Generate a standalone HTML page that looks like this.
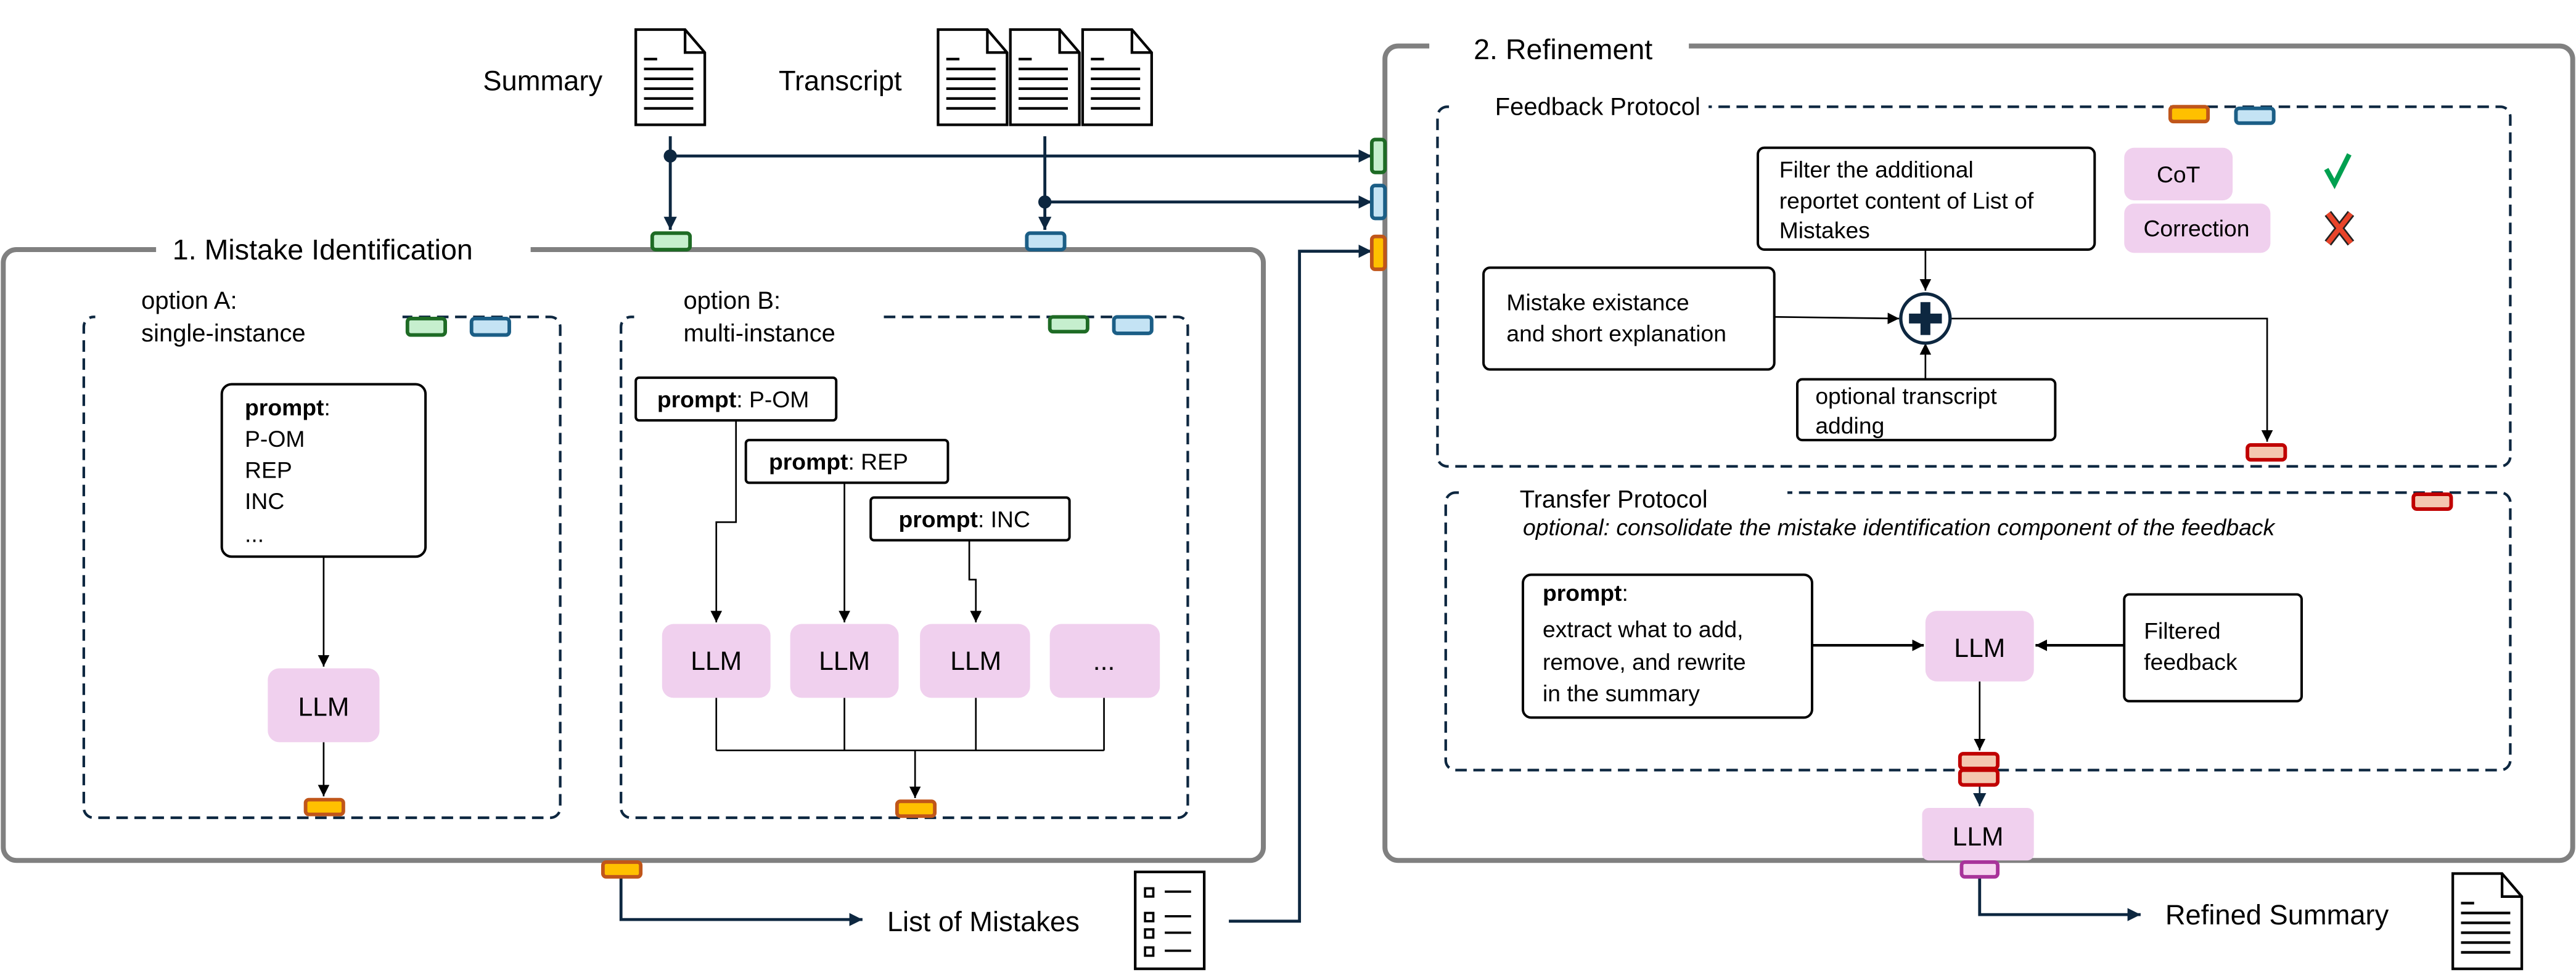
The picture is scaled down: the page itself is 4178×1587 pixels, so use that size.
<!DOCTYPE html>
<html><head><meta charset="utf-8"><style>html,body{margin:0;padding:0;background:#fff}svg{display:block}text{font-family:"Liberation Sans",sans-serif;fill:#000}</style></head><body>
<svg width="4178" height="1587" viewBox="0 0 1568 595.6" xmlns="http://www.w3.org/2000/svg">
<defs>
<marker id="a" viewBox="0 0 10 10" refX="10" refY="5" markerWidth="7" markerHeight="7" orient="auto" markerUnits="userSpaceOnUse"><path d="M0,0 L10,5 L0,10 z" fill="#000"/></marker>
<marker id="n" viewBox="0 0 10 10" refX="10" refY="5" markerWidth="8" markerHeight="8" orient="auto" markerUnits="userSpaceOnUse"><path d="M0,0 L10,5 L0,10 z" fill="#0d2740"/></marker>
<g id="doc"><path d="M0,0 H30 L42,14 V58 H0 z M30,0 V14 H42" fill="#fff" stroke="#000" stroke-width="1.6"/><path d="M5,18h8M5,24h30M5,30h30M5,36h30M5,42h30M5,48h30" stroke="#000" stroke-width="1.6"/></g>
</defs>
<rect width="1568" height="596" fill="#fff"/>
<!-- top documents -->
<text x="294" y="55" font-size="17">Summary</text>
<use href="#doc" x="387" y="18"/>
<text x="474" y="55" font-size="17">Transcript</text>
<use href="#doc" x="571" y="18"/><use href="#doc" x="615" y="18"/><use href="#doc" x="659" y="18"/>
<!-- external connectors -->
<g stroke="#0d2740" stroke-width="1.8" fill="none">
<path d="M408,83 V140" marker-end="url(#n)"/>
<path d="M408,95 H835" marker-end="url(#n)"/>
<path d="M636,83 V140" marker-end="url(#n)"/>
<path d="M636,123 H835" marker-end="url(#n)"/>
<path d="M378,534 V560 H525" marker-end="url(#n)"/>
<path d="M748,561 H791 V153 H835" marker-end="url(#n)"/>
<path d="M1205,535 V557 H1303" marker-end="url(#n)"/>
</g>
<circle cx="408" cy="95" r="4" fill="#0d2740"/><circle cx="636" cy="123" r="4" fill="#0d2740"/>
<!-- Box 1 -->
<rect x="2" y="152" width="767" height="372" rx="8" fill="none" stroke="#808080" stroke-width="3"/>
<rect x="95" y="140" width="228" height="20" fill="#fff"/>
<text x="105" y="158" font-size="17.5">1. Mistake Identification</text>
<!-- Option A -->
<rect x="51" y="193" width="290" height="305" rx="6" fill="none" stroke="#0d2740" stroke-width="1.6" stroke-dasharray="7,4"/>
<rect x="58" y="180" width="187" height="20" fill="#fff"/>
<text x="86" y="188" font-size="15">option A:</text>
<text x="86" y="208" font-size="15">single-instance</text>
<rect x="135" y="234" width="124" height="105" rx="6" fill="#fff" stroke="#000" stroke-width="1.5"/>
<text x="149" y="253" font-size="14" font-weight="bold">prompt<tspan font-weight="normal">:</tspan></text>
<text x="149" y="272" font-size="14">P-OM</text>
<text x="149" y="291" font-size="14">REP</text>
<text x="149" y="310" font-size="14">INC</text>
<text x="149" y="330" font-size="14">...</text>
<g stroke="#000" stroke-width="1" fill="none">
<path d="M197,339 V406" marker-end="url(#a)"/>
<path d="M197,452 V485" marker-end="url(#a)"/>
</g>
<rect x="163" y="407" width="68" height="45" rx="7" fill="#f0d0ee"/>
<text x="197" y="436" font-size="16" text-anchor="middle">LLM</text>
<!-- Option B -->
<rect x="378" y="193" width="345" height="305" rx="6" fill="none" stroke="#0d2740" stroke-width="1.6" stroke-dasharray="7,4"/>
<rect x="386" y="180" width="150" height="20" fill="#fff"/>
<text x="416" y="188" font-size="15">option B:</text>
<text x="416" y="208" font-size="15">multi-instance</text>
<g stroke="#000" stroke-width="1" fill="none">
<path d="M448,256 V318 H436 V379" marker-end="url(#a)"/>
<path d="M514,294 V379" marker-end="url(#a)"/>
<path d="M590,329 V353 H594 V379" marker-end="url(#a)"/>
<path d="M436,425 V457 M514,425 V457 M594,425 V457 M672,425 V457 M436,457 H672"/>
<path d="M557,457 V486" marker-end="url(#a)"/>
</g>
<rect x="387" y="230" width="122" height="26" rx="2" fill="#fff" stroke="#000" stroke-width="1.5"/>
<text x="400" y="248" font-size="14"><tspan font-weight="bold">prompt</tspan>: P-OM</text>
<rect x="454" y="268" width="123" height="26" rx="2" fill="#fff" stroke="#000" stroke-width="1.5"/>
<text x="468" y="286" font-size="14"><tspan font-weight="bold">prompt</tspan>: REP</text>
<rect x="530" y="303" width="121" height="26" rx="2" fill="#fff" stroke="#000" stroke-width="1.5"/>
<text x="547" y="321" font-size="14"><tspan font-weight="bold">prompt</tspan>: INC</text>
<g fill="#f0d0ee"><rect x="403" y="380" width="66" height="45" rx="7"/><rect x="481" y="380" width="66" height="45" rx="7"/><rect x="560" y="380" width="67" height="45" rx="7"/><rect x="639" y="380" width="67" height="45" rx="7"/></g>
<g font-size="16" text-anchor="middle"><text x="436" y="408">LLM</text><text x="514" y="408">LLM</text><text x="594" y="408">LLM</text><text x="672" y="408">...</text></g>
<!-- List of mistakes -->
<text x="540" y="567" font-size="17">List of Mistakes</text>
<rect x="691" y="531" width="42" height="59" fill="#fff" stroke="#000" stroke-width="1.6"/>
<g stroke="#000" stroke-width="1.4" fill="none"><rect x="697" y="541" width="5" height="5"/><rect x="697" y="556" width="5" height="5"/><rect x="697" y="566" width="5" height="5"/><rect x="697" y="577" width="5" height="5"/><path d="M709,543h16M709,558h16M709,568h16M709,579h16"/></g>
<!-- Box 2 -->
<rect x="843" y="28" width="723" height="496" rx="8" fill="none" stroke="#808080" stroke-width="3"/>
<rect x="870" y="18" width="158" height="20" fill="#fff"/>
<text x="897" y="36" font-size="17.5">2. Refinement</text>
<!-- Feedback protocol -->
<rect x="875" y="65" width="653" height="219" rx="6" fill="none" stroke="#0d2740" stroke-width="1.6" stroke-dasharray="7,4"/>
<rect x="882" y="55" width="158" height="18" fill="#fff"/>
<text x="910" y="70" font-size="15">Feedback Protocol</text>
<g stroke="#000" stroke-width="1" fill="none">
<path d="M1172,152 V177" marker-end="url(#a)"/>
<path d="M1080,193 L1156,194" marker-end="url(#a)"/>
<path d="M1172,231 V209" marker-end="url(#a)"/>
<path d="M1187,194 H1380 V269" marker-end="url(#a)"/>
</g>
<rect x="1070" y="90" width="205" height="62" rx="4" fill="#fff" stroke="#000" stroke-width="1.5"/>
<text x="1083" y="108" font-size="14">Filter the additional</text>
<text x="1083" y="127" font-size="14">reportet content of List of</text>
<text x="1083" y="145" font-size="14">Mistakes</text>
<rect x="903" y="163" width="177" height="62" rx="4" fill="#fff" stroke="#000" stroke-width="1.5"/>
<text x="917" y="189" font-size="14">Mistake existance</text>
<text x="917" y="208" font-size="14">and short explanation</text>
<rect x="1094" y="231" width="157" height="37" rx="3" fill="#fff" stroke="#000" stroke-width="1.5"/>
<text x="1105" y="246" font-size="14">optional transcript</text>
<text x="1105" y="264" font-size="14">adding</text>
<circle cx="1172" cy="194" r="15" fill="#fff" stroke="#0d2740" stroke-width="2"/>
<path d="M1169,184h6v7h7v6h-7v7h-6v-7h-7v-6h7z" fill="#0d2740"/>
<rect x="1293" y="90" width="66" height="32" rx="6" fill="#f0d0ee"/>
<text x="1326" y="111" font-size="14" text-anchor="middle">CoT</text>
<rect x="1293" y="124" width="89" height="30" rx="6" fill="#f0d0ee"/>
<text x="1337" y="144" font-size="14" text-anchor="middle">Correction</text>
<path d="M1416,103 L1421,112 L1430,94" stroke="#00a050" stroke-width="3" fill="none"/>
<path d="M1417,130 L1431,148 M1431,130 L1417,148" stroke="#222" stroke-width="5"/>
<path d="M1417,130 L1431,148 M1431,130 L1417,148" stroke="#e8442a" stroke-width="3"/>
<!-- Transfer protocol -->
<rect x="880" y="300" width="648" height="169" rx="6" fill="none" stroke="#0d2740" stroke-width="1.6" stroke-dasharray="7,4"/>
<rect x="888" y="290" width="200" height="18" fill="#fff"/>
<text x="925" y="309" font-size="15">Transfer Protocol</text>
<text x="927" y="326" font-size="14" font-style="italic">optional: consolidate the mistake identification component of the feedback</text>
<g stroke="#000" stroke-width="1.6" fill="none">
<path d="M1103,393 H1171" marker-end="url(#a)"/>
<path d="M1293,393 H1239" marker-end="url(#a)"/>
</g>
<g stroke="#000" stroke-width="1" fill="none"><path d="M1205,415 V457" marker-end="url(#a)"/></g>
<g stroke="#0d2740" stroke-width="1" fill="none"><path d="M1205,479 V491" marker-end="url(#n)"/></g>
<rect x="927" y="350" width="176" height="87" rx="5" fill="#fff" stroke="#000" stroke-width="1.5"/>
<text x="939" y="366" font-size="14" font-weight="bold">prompt<tspan font-weight="normal">:</tspan></text>
<text x="939" y="388" font-size="14">extract what to add,</text>
<text x="939" y="408" font-size="14">remove, and rewrite</text>
<text x="939" y="427" font-size="14">in the summary</text>
<rect x="1172" y="372" width="66" height="43" rx="7" fill="#f0d0ee"/>
<text x="1205" y="400" font-size="16" text-anchor="middle">LLM</text>
<rect x="1293" y="362" width="108" height="65" rx="3" fill="#fff" stroke="#000" stroke-width="1.5"/>
<text x="1305" y="389" font-size="14">Filtered</text>
<text x="1305" y="408" font-size="14">feedback</text>
<rect x="1170" y="492" width="68" height="32" rx="4" fill="#f0d0ee"/>
<text x="1204" y="515" font-size="16" text-anchor="middle">LLM</text>
<text x="1318" y="563" font-size="17">Refined Summary</text>
<use href="#doc" x="1493" y="532"/>
<!-- ports -->
<g stroke-width="2.2">
<rect x="397" y="142" width="23" height="10" rx="2" fill="#c6efce" stroke="#1e6b25"/>
<rect x="625" y="142" width="23" height="10" rx="2" fill="#c4e3f4" stroke="#1b5e86"/>
<rect x="248" y="194" width="23" height="10" rx="2" fill="#c6efce" stroke="#1e6b25"/>
<rect x="287" y="194" width="23" height="10" rx="2" fill="#c4e3f4" stroke="#1b5e86"/>
<rect x="639" y="193" width="23" height="9" rx="2" fill="#c6efce" stroke="#1e6b25"/>
<rect x="678" y="193" width="23" height="10" rx="2" fill="#c4e3f4" stroke="#1b5e86"/>
<rect x="186" y="487" width="23" height="9" rx="2" fill="#ffc000" stroke="#c0561a"/>
<rect x="546" y="488" width="23" height="9" rx="2" fill="#ffc000" stroke="#c0561a"/>
<rect x="367" y="525" width="23" height="9" rx="2" fill="#ffc000" stroke="#c0561a"/>
<rect x="835" y="85" width="8" height="20" rx="2" fill="#c6efce" stroke="#1e6b25"/>
<rect x="835" y="113" width="8" height="20" rx="2" fill="#c4e3f4" stroke="#1b5e86"/>
<rect x="835" y="144" width="8" height="20" rx="2" fill="#ffc000" stroke="#c0561a"/>
<rect x="1321" y="65" width="23" height="9" rx="2" fill="#ffc000" stroke="#c0561a"/>
<rect x="1361" y="66" width="23" height="9" rx="2" fill="#c4e3f4" stroke="#1b5e86"/>
<rect x="1368" y="271" width="23" height="9" rx="2" fill="#f4c7b0" stroke="#c00000"/>
<rect x="1469" y="301" width="23" height="9" rx="2" fill="#f4c7b0" stroke="#c00000"/>
<rect x="1193" y="459" width="23" height="9" rx="2" fill="#f4c7b0" stroke="#c00000"/>
<rect x="1193" y="469" width="23" height="9" rx="2" fill="#f4c7b0" stroke="#c00000"/>
<rect x="1194" y="525" width="22" height="9" rx="2" fill="#f6d5f0" stroke="#a8339a"/>
</g>
</svg>
</body></html>
